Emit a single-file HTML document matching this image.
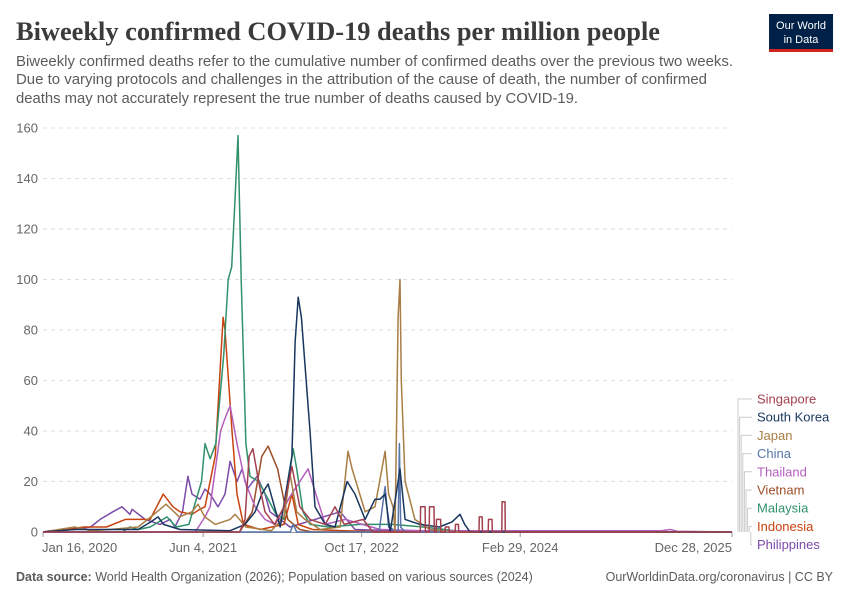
<!DOCTYPE html>
<html><head><meta charset="utf-8"><style>
body{margin:0;background:#fff;}
svg{display:block;font-family:"Liberation Sans",sans-serif;}
</style></head><body>
<svg id="chart" width="850" height="600" viewBox="0 0 850 600" xmlns="http://www.w3.org/2000/svg">
<text x="16" y="40" font-family="Liberation Serif, serif" font-weight="bold" font-size="26" fill="#3b3b3b" textLength="644" lengthAdjust="spacingAndGlyphs">Biweekly confirmed COVID-19 deaths per million people</text>
<g font-size="14.5" fill="#5b5b5b">
<text x="16" y="66" textLength="717" lengthAdjust="spacingAndGlyphs">Biweekly confirmed deaths refer to the cumulative number of confirmed deaths over the previous two weeks.</text>
<text x="16" y="84" textLength="691" lengthAdjust="spacingAndGlyphs">Due to varying protocols and challenges in the attribution of the cause of death, the number of confirmed</text>
<text x="16" y="103" textLength="562" lengthAdjust="spacingAndGlyphs">deaths may not accurately represent the true number of deaths caused by COVID-19.</text>
</g>
<g>
<rect x="769" y="14" width="64" height="35" fill="#002147"/>
<rect x="769" y="49" width="64" height="3" fill="#ce261e"/>
<text x="801" y="29" text-anchor="middle" font-size="11" fill="#fff">Our World</text>
<text x="801" y="43" text-anchor="middle" font-size="11" fill="#fff">in Data</text>
</g>
<g id="grid"></g>
<g id="xaxis"></g>
<g id="series"></g>
<g id="legend"></g>
<text x="16" y="581" font-size="12.5" fill="#5b5b5b"><tspan font-weight="bold">Data source:</tspan> World Health Organization (2026); Population based on various sources (2024)</text>
<text x="833" y="581" text-anchor="end" font-size="12.5" fill="#5b5b5b">OurWorldinData.org/coronavirus | CC BY</text>
</svg>
<script>
const yTicks=[0,20,40,60,80,100,120,140,160];
const xTickDays=[0,505,1005,1505,2173];
const xTickLabels=["Jan 16, 2020","Jun 4, 2021","Oct 17, 2022","Feb 29, 2024","Dec 28, 2025"];
const countries=["Singapore","South Korea","Japan","China","Thailand","Vietnam","Malaysia","Indonesia","Philippines"];
const colors=["#a2404f","#18365e","#a97e45","#5775a8","#b55fbc","#9b4f2a","#30916b","#c9420e","#7c4aa8"];
const singapore=[[0,0],[620,0],[637,5],[650,30],[662,33],[680,20],[700,8],[730,3],[760,10],[785,26],[810,10],[842,5],[890,3],[921,10],[950,3],[1010,5],[1040,0],[1190,0],[1191,10],[1205,10],[1206,0],[1218,0],[1219,10],[1233,10],[1234,0],[1240,0],[1241,5],[1254,5],[1255,0],[1268,0],[1269,2],[1280,2],[1281,0],[1300,0],[1301,3],[1310,3],[1311,0],[1375,0],[1376,6],[1385,6],[1386,0],[1404,0],[1405,5],[1416,5],[1417,0],[1447,0],[1448,12],[1457,12],[1458,0],[2173,0]];
const southKorea=[[0,0],[100,1],[300,1],[340,4],[363,6],[380,3],[432,1],[590,0.5],[637,3],[669,8],[690,15],[710,19],[730,10],[748,2],[785,30],[795,75],[805,93],[815,85],[842,40],[858,10],[890,3],[921,2],[959,20],[984,15],[1016,5],[1047,13],[1063,13],[1079,15],[1095,0],[1120,20],[1126,25],[1142,5],[1189,3],[1250,2],[1290,4],[1315,7],[1330,3],[1347,0],[2173,0]];
const japan=[[0,0],[100,2],[150,0.5],[211,1],[300,2],[350,7],[388,11],[430,6],[470,8],[489,11],[510,6],[543,3],[590,5],[606,7],[640,2],[720,0.5],[760,6],[779,23],[800,8],[826,5],[874,1],[937,2],[962,32],[975,25],[1016,8],[1047,10],[1079,32],[1090,15],[1104,10],[1110,0],[1117,60],[1120,85],[1126,100],[1130,60],[1142,20],[1173,5],[1220,1],[1300,0],[2173,0]];
const china=[[0,0],[780,0],[789,3],[800,0],[1060,0],[1079,18],[1090,2],[1120,0],[1124,35],[1128,2],[1142,0],[2173,0]];
const thailand=[[0,0],[480,0],[511,6],[527,10],[560,40],[574,45],[590,50],[612,35],[637,20],[669,10],[700,5],[732,3],[779,14],[810,20],[836,25],[890,3],[953,5],[1063,1],[1200,0.5],[1950,0.5],[1978,1],[2000,0.3],[2173,0]];
const vietnam=[[0,0],[620,0],[660,8],[690,30],[710,34],[740,25],[772,5],[810,1],[850,0],[2173,0]];
const malaysia=[[0,0],[250,0],[274,2],[300,1],[338,2],[391,6],[420,2],[460,3],[500,20],[511,35],[527,29],[545,35],[570,70],[584,100],[595,105],[605,130],[615,157],[625,100],[640,35],[653,22],[680,20],[710,13],[735,7],[760,5],[780,25],[789,33],[800,25],[820,8],[842,3],[900,2],[1000,3],[1100,3],[1200,2],[1300,0.5],[1400,0],[2173,0]];
const indonesia=[[0,0],[130,2],[200,2],[260,5],[338,5],[379,15],[410,10],[432,8],[470,7],[495,9],[511,10],[543,30],[568,85],[574,80],[596,40],[612,15],[632,3],[685,1],[760,3],[785,15],[805,3],[850,1],[950,0.5],[1100,0],[2173,0]];
const philippines=[[0,0],[20,0.5],[100,1],[150,2],[180,5],[220,8],[249,10],[274,7],[281,9],[322,5],[369,3],[401,5],[416,2],[440,8],[457,22],[470,15],[495,13],[511,17],[527,15],[552,10],[574,15],[590,28],[612,20],[628,25],[644,17],[675,22],[700,15],[716,8],[748,5],[779,2],[937,8],[984,1],[1100,0.5],[1400,0.3],[2173,0]];
const seriesData=[singapore,southKorea,japan,china,thailand,vietnam,malaysia,indonesia,philippines];

const NS="http://www.w3.org/2000/svg";
const X0=43,X1=732,Y0=532,Y1=128,DMAX=2173,VMAX=160;
function xs(d){return X0+(X1-X0)*d/DMAX;}
function ys(v){return Y0-(Y0-Y1)*v/VMAX;}
function mk(tag,attrs,parent){const e=document.createElementNS(NS,tag);for(const k in attrs)e.setAttribute(k,attrs[k]);parent.appendChild(e);return e;}

const grid=document.getElementById('grid');
yTicks.forEach(t=>{
  if(t>0){const l=mk('line',{x1:X0,x2:X1,y1:ys(t),y2:ys(t),stroke:'#dddddd','stroke-dasharray':'4,4'},grid);
  
  }
  const tx=mk('text',{x:38,y:ys(t)+4.5,'text-anchor':'end','font-size':13,fill:'#666'},grid);
  tx.textContent=t;
  
  
});
const xa=document.getElementById('xaxis');
const base=mk('line',{x1:X0,x2:X1,y1:Y0+0.5,y2:Y0+0.5,stroke:'#999'},xa);


xTickDays.forEach((d,i)=>{
  const tk=mk('line',{x1:xs(d),x2:xs(d),y1:Y0,y2:Y0+5,stroke:'#999'},xa);
  
  
  const anchor=i===0?'start':(i===xTickDays.length-1?'end':'middle');
  const tx=mk('text',{x:xs(d)+(i===0?-1:0),y:552,'text-anchor':anchor,'font-size':13,fill:'#666'},xa);
  tx.textContent=xTickLabels[i];
  
  
});
const sg=document.getElementById('series');
for(let i=seriesData.length-1;i>=0;i--){
  const pts=seriesData[i].map(p=>xs(p[0]).toFixed(1)+','+ys(p[1]).toFixed(1)).join(' ');
  const pl=mk('polyline',{points:pts,fill:'none',stroke:colors[i],'stroke-width':1.5,'stroke-linejoin':'round'},sg);
  
  
}
const lg=document.getElementById('legend');
countries.forEach((c,i)=>{
  const y=399+i*18.2;
  const bx=738+i*1.6;
  const ln=mk('path',{d:`M${bx},${Y0} L${bx},${y} L752,${y}`,fill:'none',stroke:'#ccc','stroke-width':1},lg);
  
  
  const t=mk('text',{x:757,y:y+4.5,'font-size':13,fill:colors[i]},lg);
  t.textContent=c;
  
  
});
</script>
</body></html>
